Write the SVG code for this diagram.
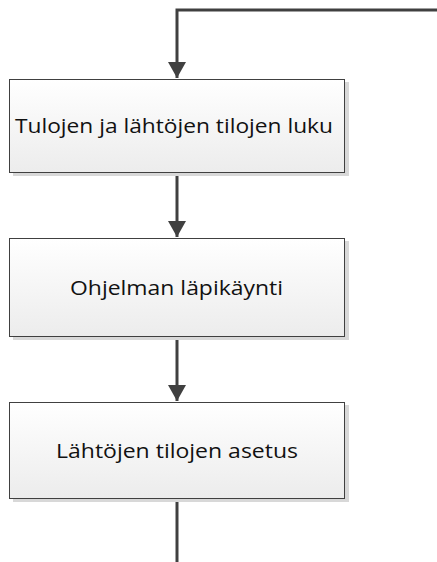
<svg xmlns="http://www.w3.org/2000/svg" width="437" height="562" viewBox="0 0 437 562">
<defs>
<linearGradient id="g" x1="0" y1="0" x2="0" y2="1"><stop offset="0" stop-color="#ffffff"/><stop offset="1" stop-color="#ececec"/></linearGradient>
<marker id="arr" markerUnits="userSpaceOnUse" markerWidth="20" markerHeight="20" refX="16" refY="9" orient="auto"><path d="M0,0 L16,9 L0,18 Z" fill="#404040"/></marker>
</defs>
<style>
.box{fill:url(#g);stroke:#404040;stroke-width:1}
.sh{fill:#d8d8d8}
.lbl{font-family:"Open Sans","Noto Sans",sans-serif;font-size:20.5px;fill:#111;text-anchor:middle}
.con{fill:none;stroke:#404040;stroke-width:3}
</style>
<g id="connectors">
<path class="con" d="M437,10 H177 V78" marker-end="url(#arr)"/>
<path class="con" d="M177,172 V237" marker-end="url(#arr)"/>
<path class="con" d="M177,336 V401" marker-end="url(#arr)"/>
<path class="con" d="M177,498 V562"/>
</g>
<g id="n1">
<rect class="sh" x="13" y="82" width="336" height="94"/>
<rect class="box" x="9.5" y="79.5" width="335" height="93"/>
<text class="lbl" x="174" y="133" textLength="318" lengthAdjust="spacingAndGlyphs">Tulojen ja lähtöjen tilojen luku</text>
</g>
<g id="n2">
<rect class="sh" x="13" y="241" width="336" height="99"/>
<rect class="box" x="9.5" y="238.5" width="335" height="98"/>
<text class="lbl" x="176.5" y="295" textLength="213" lengthAdjust="spacingAndGlyphs">Ohjelman läpikäynti</text>
</g>
<g id="n3">
<rect class="sh" x="13" y="405" width="336" height="97"/>
<rect class="box" x="9.5" y="402.5" width="335" height="96"/>
<text class="lbl" x="177" y="458" textLength="242" lengthAdjust="spacingAndGlyphs">Lähtöjen tilojen asetus</text>
</g>
</svg>
